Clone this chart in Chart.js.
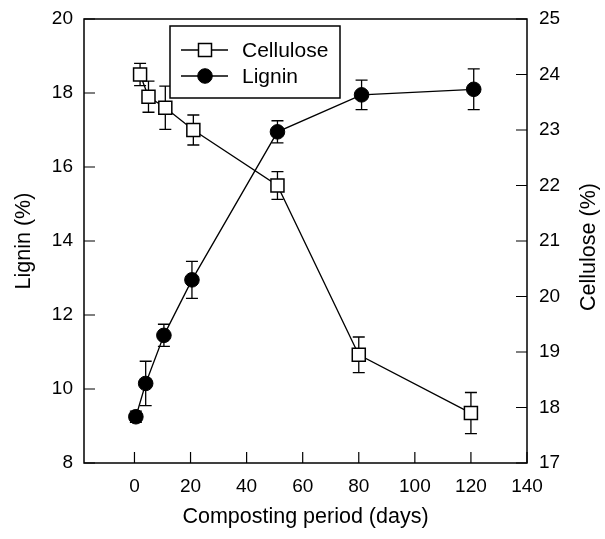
<!DOCTYPE html>
<html>
<head>
<meta charset="utf-8">
<script src="https://cdn.jsdelivr.net/npm/chart.js@4.4.1/dist/chart.umd.min.js"></script>
<style>
  html, body { margin: 0; padding: 0; background: #fff; }
  #wrap { width: 605px; height: 539px; }
</style>
</head>
<body>
<div id="wrap"><canvas id="chart"></canvas></div>
<script>
// values
const celluloseDays = [2, 5, 11, 21, 51, 80, 120];
const celluloseValues = [24.0, 23.6, 23.4, 23.0, 22.0, 18.95, 17.9];
const celluloseErrors = [0.2, 0.28, 0.39, 0.27, 0.25, 0.32, 0.37];

const ligninDays = [0.5, 4, 10.5, 20.5, 51, 81, 121];
const ligninValues = [9.25, 10.15, 11.45, 12.95, 16.95, 17.95, 18.1];
const ligninErrors = [0.15, 0.6, 0.3, 0.5, 0.3, 0.4, 0.55];

const dayTicks = [0, 20, 40, 60, 80, 100, 120, 140];
const ligninTicks = [8, 10, 12, 14, 16, 18, 20];
const celluloseTicks = [17, 18, 19, 20, 21, 22, 23, 24, 25];

const FONT = "'Liberation Sans', Arial, sans-serif";
const ink = "#000";

function points(xs, ys) {
  return xs.map((x, i) => ({ x: x, y: ys[i] }));
}

function fixedTicks(list) {
  return function (scale) {
    scale.ticks = list.map((v) => ({ value: v }));
  };
}

// fixed box sizes so the plot frame lands where the original has it
function sideWidth(w) {
  return function (scale) {
    scale.width = w;
    scale.paddingTop = 0;
    scale.paddingBottom = 0;
  };
}

const decor = {
  id: "decor",
  beforeDatasetsDraw(chart) {
    const ctx = chart.ctx;
    const xs = chart.scales.x;
    ctx.save();
    ctx.strokeStyle = ink;
    ctx.lineWidth = 1.3;
    chart.data.datasets.forEach((ds) => {
      const ys = chart.scales[ds.yAxisID];
      ds.data.forEach((p, i) => {
        const e = ds.errors[i];
        const px = xs.getPixelForValue(p.x);
        const top = ys.getPixelForValue(p.y + e);
        const bot = ys.getPixelForValue(p.y - e);
        ctx.beginPath();
        ctx.moveTo(px, top);
        ctx.lineTo(px, bot);
        ctx.moveTo(px - 6, top);
        ctx.lineTo(px + 6, top);
        ctx.moveTo(px - 6, bot);
        ctx.lineTo(px + 6, bot);
        ctx.stroke();
      });
    });
    ctx.restore();
  },
  afterDraw(chart) {
    const ctx = chart.ctx;
    const a = chart.chartArea;
    const s = chart.scales;
    ctx.save();
    ctx.strokeStyle = ink;
    ctx.lineWidth = 1.5;
    ctx.strokeRect(a.left, a.top, a.right - a.left, a.bottom - a.top);

    // inward tick marks
    ctx.lineWidth = 1.2;
    ctx.beginPath();
    s.x.ticks.forEach((t) => {
      const px = s.x.getPixelForValue(t.value);
      ctx.moveTo(px, a.bottom);
      ctx.lineTo(px, a.bottom - 11);
    });
    s.y.ticks.forEach((t) => {
      const py = s.y.getPixelForValue(t.value);
      ctx.moveTo(a.left, py);
      ctx.lineTo(a.left + 11, py);
    });
    s.y2.ticks.forEach((t) => {
      const py = s.y2.getPixelForValue(t.value);
      ctx.moveTo(a.right, py);
      ctx.lineTo(a.right - 11, py);
    });
    ctx.stroke();

    // right axis title, reading bottom to top
    ctx.fillStyle = ink;
    ctx.font = "21.5px " + FONT;
    ctx.textAlign = "center";
    ctx.textBaseline = "middle";
    ctx.translate(589, (a.top + a.bottom) / 2 + 6);
    ctx.rotate(-Math.PI / 2);
    ctx.fillText("Cellulose (%)", 0, 0);
    ctx.restore();

    // legend box
    ctx.save();
    const bx = a.left + 86, by = a.top + 7, bw = 170, bh = 72;
    ctx.fillStyle = "#fff";
    ctx.fillRect(bx, by, bw, bh);
    ctx.strokeStyle = ink;
    ctx.lineWidth = 1.5;
    ctx.strokeRect(bx, by, bw, bh);
    ctx.font = "21px " + FONT;
    ctx.textAlign = "left";
    ctx.textBaseline = "middle";
    chart.data.datasets.forEach((ds, i) => {
      const ly = by + 24 + i * 26;
      ctx.lineWidth = 1.3;
      ctx.strokeStyle = ink;
      ctx.beginPath();
      ctx.moveTo(bx + 11, ly);
      ctx.lineTo(bx + 58, ly);
      ctx.stroke();
      ctx.fillStyle = ds.pointBackgroundColor;
      ctx.strokeStyle = ink;
      ctx.lineWidth = ds.pointBorderWidth;
      Chart.helpers.drawPoint(ctx, {
        pointStyle: ds.pointStyle,
        radius: ds.pointRadius,
        rotation: 0,
        borderWidth: ds.pointBorderWidth,
      }, bx + 35, ly);
      ctx.fillStyle = ink;
      ctx.fillText(ds.label, bx + 72, ly + 1);
    });
    ctx.restore();
  },
};

const tickFont = { family: FONT, size: 19 };
const titleFont = { family: FONT, size: 21.5 };
const noGrid = { display: false, drawTicks: false };

new Chart(document.getElementById("chart"), {
  type: "line",
  data: {
    datasets: [
      {
        label: "Cellulose",
        data: points(celluloseDays, celluloseValues),
        errors: celluloseErrors,
        yAxisID: "y2",
        borderColor: ink,
        borderWidth: 1.3,
        pointStyle: "rect",
        pointRadius: 9.2,
        pointBackgroundColor: "#fff",
        pointBorderColor: ink,
        pointBorderWidth: 1.5,
        tension: 0,
      },
      {
        label: "Lignin",
        data: points(ligninDays, ligninValues),
        errors: ligninErrors,
        yAxisID: "y",
        borderColor: ink,
        borderWidth: 1.3,
        pointStyle: "circle",
        pointRadius: 7.3,
        pointBackgroundColor: ink,
        pointBorderColor: ink,
        pointBorderWidth: 1,
        tension: 0,
      },
    ],
  },
  options: {
    responsive: true,
    maintainAspectRatio: false,
    animation: false,
    events: [],
    layout: { padding: { top: 19, left: 0, right: 0, bottom: 0 } },
    plugins: {
      legend: { display: false },
      tooltip: { enabled: false },
    },
    scales: {
      x: {
        type: "linear",
        min: -18,
        max: 140,
        afterBuildTicks: fixedTicks(dayTicks),
        afterFit: (sc) => { sc.height = 76; },
        grid: noGrid,
        border: { display: false },
        ticks: { color: ink, font: tickFont, padding: 12, maxRotation: 0 },
        title: {
          display: true,
          text: "Composting period (days)",
          color: ink,
          font: titleFont,
          padding: { top: 0, bottom: 9 },
        },
      },
      y: {
        position: "left",
        min: 8,
        max: 20,
        afterBuildTicks: fixedTicks(ligninTicks),
        afterFit: sideWidth(84),
        grid: noGrid,
        border: { display: false },
        ticks: { color: ink, font: tickFont, padding: 11 },
        title: {
          display: true,
          text: "Lignin (%)",
          color: ink,
          font: titleFont,
          padding: { top: 11, bottom: 0 },
        },
      },
      y2: {
        position: "right",
        min: 17,
        max: 25,
        afterBuildTicks: fixedTicks(celluloseTicks),
        afterFit: sideWidth(78),
        grid: noGrid,
        border: { display: false },
        ticks: { color: ink, font: tickFont, padding: 12 },
      },
    },
  },
  plugins: [decor],
});
</script>
</body>
</html>
